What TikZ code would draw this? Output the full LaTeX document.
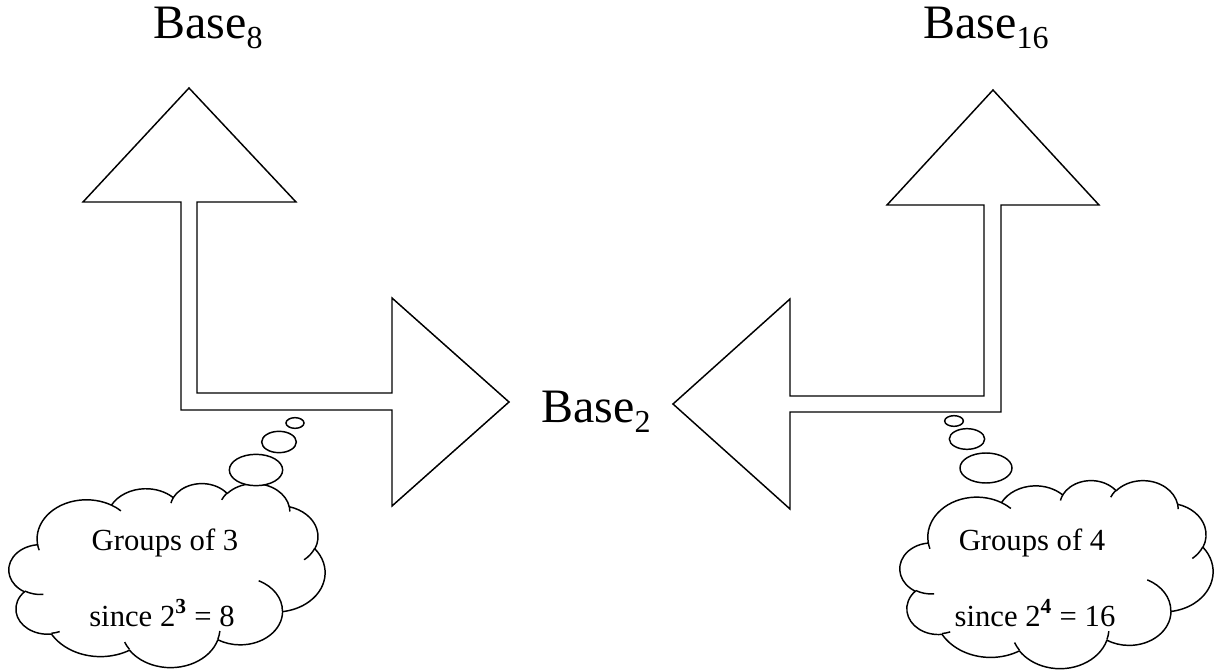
\documentclass[tikz,border=0pt]{standalone}
\usepackage{fontspec}
\setmainfont{Liberation Serif}
\usetikzlibrary{shapes.geometric}
\newcommand\lowsub[1]{\raisebox{-7.5pt}{\fontsize{24}{24}\selectfont #1}}
\tikzset{
  % parametric angle of the point seen at angle \ang on an ellipse with radii \rx, \ry
  declare function={pa(\ang,\rx,\ry)=\ang+atan((\rx-\ry)*sin(\ang)*cos(\ang)/(\ry*cos(\ang)*cos(\ang)+\rx*sin(\ang)*sin(\ang)));},
  % elliptic arc given by radii, start angle and sweep (visual angles)
  pparc/.style n args={4}{insert path={arc[x radius=#1, y radius=#2,
      start angle={pa(#3,#1,#2)}, end angle={pa(#3+#4,#1,#2)}]}},
  outline/.style={draw=black, line width=1.1pt, line join=miter, fill=white},
  bigarrow/.style={outline},
  cloudline/.style={draw=black, line width=1.1pt, line join=round},
  bubble/.style={ellipse, draw=black, line width=1.1pt, inner sep=0pt, fill=white},
  baselabel/.style={font=\fontsize{36}{40}\selectfont, inner sep=0pt, anchor=base west},
  cloudtext/.style={font=\fontsize{23}{26}\selectfont, inner sep=0pt, anchor=base}
}
% thought cloud drawn in a 432 x 432 frame
\newcommand\drawthoughtcloud{%
  \draw[cloudline, fill=white] (39.00,143.70)
    [pparc={67.53}{91.90}{-190.4875}{123.7805}]
    [pparc={53.33}{72.67}{-144.1024}{89.9452}]
    [pparc={43.65}{59.45}{-145.8079}{99.7230}]
    [pparc={48.57}{65.95}{-130.9861}{117.2417}]
    [pparc={53.33}{72.73}{-78.7089}{109.0269}]
    [pparc={67.75}{92.20}{-46.2673}{130.2690}]
    [pparc={57.85}{78.67}{0.6250}{114.0333}]
    [pparc={67.52}{92.15}{22.4516}{115.1726}]
    [pparc={77.20}{105.43}{66.2426}{75.7110}]
    [pparc={43.60}{59.18}{-274.9421}{146.7356}]
    [pparc={43.45}{59.45}{-246.8285}{152.5189}]
    -- cycle;
  \draw[cloudline]
    (46.93,261.77) [pparc={43.45}{59.45}{86.7420}{26.4295}]
    (69.28,348.99) [pparc={43.60}{59.18}{73.6105}{11.4475}]
    (164.78,390.90) [pparc={67.52}{92.15}{137.6242}{14.0811}]
    (288.27,347.51) [pparc={67.52}{92.15}{6.4533}{15.9984}]
    (341.29,229.54) [pparc={57.85}{78.67}{-70.2924}{70.9174}]
    (417.98,153.54) [pparc={53.33}{72.73}{30.3180}{27.7515}]
    (383.24,54.26) [pparc={48.57}{65.95}{-13.7443}{14.8589}]
    (290.78,39.52) [pparc={48.57}{65.95}{-149.1815}{18.1954}]
    (221.41,47.20) [pparc={43.65}{59.45}{-163.4943}{17.6864}]
    (140.00,51.92) [pparc={67.53}{91.90}{-66.7070}{12.3194}]
    (41.27,157.89) [pparc={67.53}{91.90}{157.6544}{11.8582}];
}
\begin{document}
\begin{tikzpicture}[x=0.75pt, y=-0.75pt]
\useasboundingbox (0,0) rectangle (1215,670);

% left bent arrow: up to base 8, right to base 2
\draw[bigarrow] (189,88) -- (296,202) -- (197,202) -- (197,393) -- (392,393)
  -- (392,298) -- (509,402) -- (392,506) -- (392,410) -- (181,410) -- (181,202)
  -- (83,202) -- cycle;

% right bent arrow: up to base 16, left to base 2
\draw[bigarrow] (993,90) -- (1099,205) -- (1001,205) -- (1001,412) -- (790,412)
  -- (790,509) -- (673,404) -- (790,299) -- (790,396) -- (984,396) -- (984,205)
  -- (887,205) -- cycle;

% labels
\node[baselabel] (b8) at (153,39) {Base\lowsub{8}};
\node[baselabel] (b16) at (923,39) {Base\lowsub{16}};
\node[baselabel] (b2) at (541,423) {Base\lowsub{2}};

% left thought cloud
\begin{scope}[shift={(9,483)}, x=0.5486pt, y=-0.3194pt]
  \drawthoughtcloud
\end{scope}
\node[bubble, minimum width=40pt, minimum height=23.5pt] (cl1) at (256,470) {};
\node[bubble, minimum width=26pt, minimum height=16pt] (cl2) at (279,442) {};
\node[bubble, minimum width=13.5pt, minimum height=8pt] (cl3) at (295,423) {};
\node[cloudtext] (tl1) at (165,551) {Groups of 3};
\node[cloudtext] (tl2) at (162,626) {since 2\textsuperscript{\textbf{3}} = 8};

% right thought cloud
\begin{scope}[shift={(900,480)}, x=0.5434pt, y=-0.3264pt]
  \drawthoughtcloud
\end{scope}
\node[bubble, minimum width=39pt, minimum height=22.5pt] (cr1) at (986,468) {};
\node[bubble, minimum width=26.5pt, minimum height=15.5pt] (cr2) at (967,439) {};
\node[bubble, minimum width=14pt, minimum height=8pt] (cr3) at (954,421) {};
\node[cloudtext] (tr1) at (1032,551) {Groups of 4};
\node[cloudtext] (tr2) at (1035,626) {since 2\textsuperscript{\textbf{4}} = 16};
\end{tikzpicture}
\end{document}
